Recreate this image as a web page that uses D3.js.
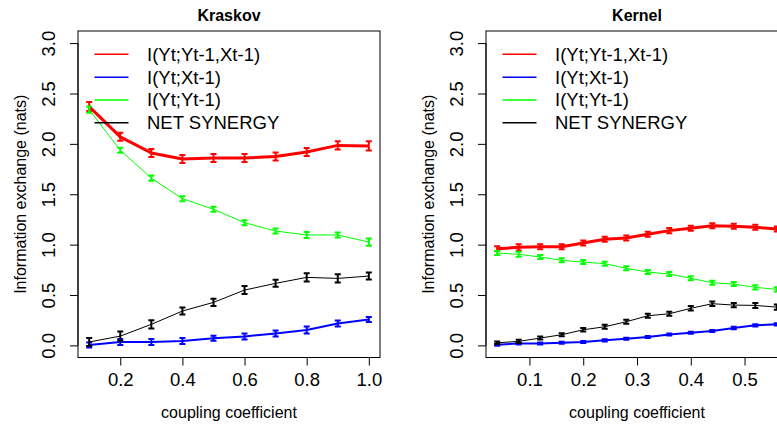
<!DOCTYPE html>
<html>
<head>
<meta charset="utf-8">
<script src="https://cdn.jsdelivr.net/npm/d3@7"></script>
<style>
  html, body { margin: 0; padding: 0; background: #fff; }
  svg { display: block; }
  text { font-family: "Liberation Sans", Arial, Helvetica, sans-serif; fill: #000; }
</style>
</head>
<body>
<svg id="chart" width="777" height="429"></svg>
<script>
// ---- Kraskov estimator ----
const kraskovCoupling = [0.1, 0.2, 0.3, 0.4, 0.5, 0.6, 0.7, 0.8, 0.9, 1.0];
const kraskovJoint    = [2.37, 2.07, 1.91, 1.85, 1.86, 1.86, 1.875, 1.92, 1.985, 1.98];
const kraskovCross    = [0.005, 0.033, 0.033, 0.043, 0.07, 0.089, 0.119, 0.152, 0.218, 0.258];
const kraskovSelf     = [2.34, 1.937, 1.66, 1.456, 1.351, 1.218, 1.135, 1.096, 1.096, 1.025];
const kraskovSynergy  = [0.034, 0.092, 0.209, 0.341, 0.427, 0.549, 0.616, 0.675, 0.665, 0.688];
const kraskovJointErr   = [0.045, 0.04, 0.04, 0.04, 0.04, 0.04, 0.04, 0.04, 0.04, 0.045];
const kraskovCrossErr   = [0.025, 0.03, 0.03, 0.03, 0.025, 0.03, 0.03, 0.035, 0.03, 0.025];
const kraskovSelfErr    = [0.03, 0.025, 0.025, 0.025, 0.025, 0.025, 0.025, 0.03, 0.025, 0.035];
const kraskovSynergyErr = [0.04, 0.045, 0.04, 0.035, 0.035, 0.04, 0.035, 0.04, 0.04, 0.035];
const kraskovTicks = [0.2, 0.4, 0.6, 0.8, 1.0];

// ---- Kernel estimator ----
const kernelCoupling = [0.04, 0.08, 0.12, 0.16, 0.20, 0.24, 0.28, 0.32, 0.36, 0.40, 0.44, 0.48, 0.52, 0.56];
const kernelJoint    = [0.96, 0.973, 0.98, 0.98, 1.016, 1.053, 1.066, 1.103, 1.139, 1.162, 1.188, 1.182, 1.172, 1.155];
const kernelCross    = [0.006, 0.02, 0.02, 0.026, 0.033, 0.05, 0.066, 0.083, 0.109, 0.125, 0.142, 0.172, 0.199, 0.209];
const kernelSelf     = [0.917, 0.904, 0.877, 0.844, 0.827, 0.811, 0.765, 0.728, 0.708, 0.666, 0.622, 0.609, 0.576, 0.556];
const kernelSynergy  = [0.026, 0.04, 0.073, 0.106, 0.155, 0.185, 0.235, 0.294, 0.314, 0.368, 0.414, 0.40, 0.397, 0.38];
const kernelJointErr   = [0.025, 0.03, 0.025, 0.025, 0.025, 0.025, 0.025, 0.025, 0.025, 0.025, 0.025, 0.025, 0.025, 0.025];
const kernelCrossErr   = [0.01, 0.01, 0.01, 0.01, 0.01, 0.01, 0.01, 0.01, 0.01, 0.01, 0.01, 0.012, 0.012, 0.012];
const kernelSelfErr    = [0.02, 0.025, 0.02, 0.02, 0.02, 0.02, 0.02, 0.02, 0.02, 0.02, 0.02, 0.02, 0.02, 0.02];
const kernelSynergyErr = [0.012, 0.015, 0.015, 0.015, 0.018, 0.02, 0.02, 0.02, 0.02, 0.022, 0.022, 0.022, 0.025, 0.025];
const kernelTicks = [0.1, 0.2, 0.3, 0.4, 0.5];

// ---- shared ----
const yTicks = [0.0, 0.5, 1.0, 1.5, 2.0, 2.5, 3.0];
const legendLabels = ["I(Yt;Yt-1,Xt-1)", "I(Yt;Xt-1)", "I(Yt;Yt-1)", "NET SYNERGY"];
const seriesColors = ["#ff0000", "#0000ff", "#00ff00", "#000000"];
const seriesWidths = [3, 2, 1, 1];
const yAxisTitle = "Information exchange (nats)";
const xAxisTitle = "coupling coefficient";

const svg = d3.select("#chart");
svg.append("rect").attr("width", 777).attr("height", 429).attr("fill", "#fff");

const plotTop = 31, plotBottom = 357.5, plotWidth = 302;

function drawPanel(cfg) {
  const left = cfg.left, right = left + plotWidth;
  const xs = cfg.x;
  const span = d3.max(xs) - d3.min(xs);
  const x = d3.scaleLinear()
    .domain([d3.min(xs) - 0.04 * span, d3.max(xs) + 0.04 * span])
    .range([left, right]);
  const y = d3.scaleLinear().domain([-0.12, 3.12]).range([plotBottom, plotTop]);

  const g = svg.append("g");

  // series: line then error bars
  cfg.series.forEach((vals, i) => {
    const pts = xs.map((v, j) => ({ x: v, y: vals[j], e: cfg.errors[i][j] }));
    const color = seriesColors[i];
    g.append("path")
      .datum(pts)
      .attr("fill", "none")
      .attr("stroke", color)
      .attr("stroke-width", seriesWidths[i])
      .attr("stroke-linejoin", "round")
      .attr("d", d3.line().x(d => x(d.x)).y(d => y(d.y)));

    const bars = g.append("g").attr("stroke", color).attr("stroke-width", 2).attr("fill", "none");
    const cap = 3;
    pts.forEach(d => {
      const cx = x(d.x), y0 = y(d.y - d.e), y1 = y(d.y + d.e);
      bars.append("path")
        .attr("d", `M${cx},${y0}V${y1}M${cx - cap},${y0}H${cx + cap}M${cx - cap},${y1}H${cx + cap}`);
    });
  });

  // plot box
  g.append("rect")
    .attr("x", left).attr("y", plotTop)
    .attr("width", plotWidth).attr("height", plotBottom - plotTop)
    .attr("fill", "none").attr("stroke", "#000").attr("stroke-width", 1);

  // x axis
  const xAxis = g.append("g")
    .attr("transform", `translate(0,${plotBottom})`)
    .call(d3.axisBottom(x).tickValues(cfg.xTicks).tickSize(8).tickPadding(7).tickFormat(d3.format(".1f")));
  xAxis.select(".domain").remove();
  xAxis.append("line")
    .attr("x1", x(cfg.xTicks[0])).attr("x2", x(cfg.xTicks[cfg.xTicks.length - 1]))
    .attr("stroke", "#000");
  xAxis.selectAll("text").attr("font-size", 18.5).attr("fill", "#000")
    .style("font-family", '"Liberation Sans", Arial, sans-serif');
  xAxis.selectAll("line").attr("stroke", "#000");

  // y axis
  const yAxis = g.append("g")
    .attr("transform", `translate(${left},0)`)
    .call(d3.axisLeft(y).tickValues(yTicks).tickSize(8).tickFormat(d3.format(".1f")));
  yAxis.select(".domain").remove();
  yAxis.append("line")
    .attr("y1", y(yTicks[0])).attr("y2", y(yTicks[yTicks.length - 1]))
    .attr("stroke", "#000");
  yAxis.selectAll("line").attr("stroke", "#000");
  yAxis.selectAll("text")
    .attr("x", null).attr("dy", null)
    .attr("text-anchor", "middle")
    .attr("transform", "translate(-23.5,0) rotate(-90)")
    .attr("font-size", 18.5).attr("fill", "#000")
    .style("font-family", '"Liberation Sans", Arial, sans-serif');

  // titles
  const midX = (left + right) / 2, midY = (plotTop + plotBottom) / 2;
  g.append("text").attr("x", midX).attr("y", 20.5)
    .attr("text-anchor", "middle").attr("font-size", 16).attr("font-weight", "bold")
    .text(cfg.title);
  g.append("text").attr("x", midX).attr("y", 418)
    .attr("text-anchor", "middle").attr("font-size", 16)
    .text(xAxisTitle);
  g.append("text")
    .attr("transform", `translate(${left - 52},${midY}) rotate(-90)`)
    .attr("text-anchor", "middle").attr("font-size", 16)
    .text(yAxisTitle);

  // legend (no frame)
  const rowY = [54.3, 77.3, 100, 122.7];
  legendLabels.forEach((lab, i) => {
    g.append("line")
      .attr("x1", left + 16.5).attr("x2", left + 50.5)
      .attr("y1", rowY[i]).attr("y2", rowY[i])
      .attr("stroke", seriesColors[i]).attr("stroke-width", 1.6);
    g.append("text")
      .attr("x", left + 69).attr("y", rowY[i])
      .attr("dy", "0.35em")
      .attr("font-size", 18.5)
      .text(lab);
  });
}

drawPanel({
  title: "Kraskov",
  left: 78,
  x: kraskovCoupling,
  xTicks: kraskovTicks,
  series: [kraskovJoint, kraskovCross, kraskovSelf, kraskovSynergy],
  errors: [kraskovJointErr, kraskovCrossErr, kraskovSelfErr, kraskovSynergyErr]
});

drawPanel({
  title: "Kernel",
  left: 486,
  x: kernelCoupling,
  xTicks: kernelTicks,
  series: [kernelJoint, kernelCross, kernelSelf, kernelSynergy],
  errors: [kernelJointErr, kernelCrossErr, kernelSelfErr, kernelSynergyErr]
});
</script>
</body>
</html>
